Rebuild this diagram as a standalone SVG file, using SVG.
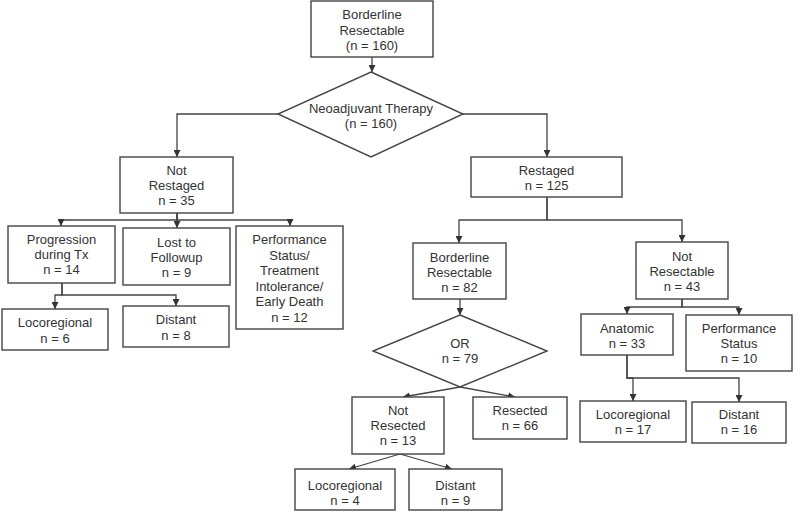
<svg xmlns="http://www.w3.org/2000/svg" width="800" height="514" viewBox="0 0 800 514">
<defs>
<marker id="arr" markerUnits="userSpaceOnUse" markerWidth="8" markerHeight="7" refX="7" refY="3.5" orient="auto">
<path d="M0,0 L7,3.5 L0,7 z" fill="#333"/>
</marker>
</defs>
<style>
.box{fill:#fff;stroke:#444;stroke-width:1.4}
.t{font-family:"Liberation Sans",Arial,sans-serif;font-size:13px;fill:#333;text-anchor:middle}
.c{fill:none;stroke:#444;stroke-width:1.3;marker-end:url(#arr)}
</style>
<rect width="800" height="514" fill="#fff"/>
<g id="connectors">
<path class="c" d="M372,57 V72"/>
<path class="c" d="M278,114 H177 V157"/>
<path class="c" d="M463,114 H547 V157"/>
<path class="c" d="M177,213 V220 H61 V226"/>
<path class="c" d="M177,213 V228"/>
<path class="c" d="M177,213 V220 H290 V226"/>
<path class="c" d="M62,283 V295 H55 V309"/>
<path class="c" d="M62,283 V295 H176 V306"/>
<path class="c" d="M547,197 V220 H459 V243"/>
<path class="c" d="M547,197 V220 H682 V242"/>
<path class="c" d="M460,299 V315"/>
<path class="c" d="M682,299 V307 H627 V314"/>
<path class="c" d="M682,299 V307 H739 V315"/>
<path class="c" d="M460,387 L403,397"/>
<path class="c" d="M460,387 L515,397"/>
<path class="c" d="M400,454 L349,469"/>
<path class="c" d="M400,454 L452,469"/>
<path class="c" d="M627,355 V378 H633 V401"/>
<path class="c" d="M627,355 V378 H739 V402"/>
</g>
<g id="n-top"><rect class="box" x="311" y="1" width="122" height="56"/>
<text class="t" x="372" y="19">Borderline</text><text class="t" x="372" y="34.5">Resectable</text><text class="t" x="372" y="50">(n = 160)</text></g>
<g id="n-neo"><polygon class="box" points="371,72 463,114 371,157 278,114"/>
<text class="t" x="371" y="113">Neoadjuvant Therapy</text><text class="t" x="371" y="128">(n = 160)</text></g>
<g id="n-notrestaged"><rect class="box" x="120" y="157" width="113" height="56"/>
<text class="t" x="176.5" y="175">Not</text><text class="t" x="176.5" y="190">Restaged</text><text class="t" x="176.5" y="205">n = 35</text></g>
<g id="n-progression"><rect class="box" x="8" y="226" width="107" height="57"/>
<text class="t" x="61.5" y="244">Progression</text><text class="t" x="61.5" y="259">during Tx</text><text class="t" x="61.5" y="274">n = 14</text></g>
<g id="n-lost"><rect class="box" x="123" y="228" width="107" height="57"/>
<text class="t" x="176.5" y="247">Lost to</text><text class="t" x="176.5" y="262">Followup</text><text class="t" x="176.5" y="277">n = 9</text></g>
<g id="n-perf1"><rect class="box" x="236" y="226" width="107" height="103"/>
<text class="t" x="289.5" y="244">Performance</text><text class="t" x="289.5" y="259.6">Status/</text><text class="t" x="289.5" y="275.2">Treatment</text><text class="t" x="289.5" y="290.8">Intolerance/</text><text class="t" x="289.5" y="306.4">Early Death</text><text class="t" x="289.5" y="322">n = 12</text></g>
<g id="n-loco6"><rect class="box" x="2" y="309" width="106" height="41"/>
<text class="t" x="55" y="327">Locoregional</text><text class="t" x="55" y="343">n = 6</text></g>
<g id="n-distant8"><rect class="box" x="123" y="306" width="106" height="41"/>
<text class="t" x="176" y="324">Distant</text><text class="t" x="176" y="340">n = 8</text></g>
<g id="n-restaged"><rect class="box" x="471" y="157" width="151" height="40"/>
<text class="t" x="546.5" y="175">Restaged</text><text class="t" x="546.5" y="190">n = 125</text></g>
<g id="n-border82"><rect class="box" x="413" y="243" width="93" height="56"/>
<text class="t" x="459.5" y="262">Borderline</text><text class="t" x="459.5" y="277">Resectable</text><text class="t" x="459.5" y="292">n = 82</text></g>
<g id="n-notresectable"><rect class="box" x="636" y="242" width="92" height="57"/>
<text class="t" x="682" y="261">Not</text><text class="t" x="682" y="276">Resectable</text><text class="t" x="682" y="291">n = 43</text></g>
<g id="n-anatomic"><rect class="box" x="581" y="314" width="92" height="41"/>
<text class="t" x="627" y="333">Anatomic</text><text class="t" x="627" y="348">n = 33</text></g>
<g id="n-perf2"><rect class="box" x="686" y="315" width="106" height="56"/>
<text class="t" x="739" y="333">Performance</text><text class="t" x="739" y="348">Status</text><text class="t" x="739" y="363">n = 10</text></g>
<g id="n-or"><polygon class="box" points="460,315 547,351 460,387 373,351"/>
<text class="t" x="460" y="348">OR</text><text class="t" x="460" y="363">n = 79</text></g>
<g id="n-notresected"><rect class="box" x="352" y="397" width="92" height="57"/>
<text class="t" x="398" y="415">Not</text><text class="t" x="398" y="430">Resected</text><text class="t" x="398" y="445">n = 13</text></g>
<g id="n-resected"><rect class="box" x="473" y="397" width="94" height="42"/>
<text class="t" x="520" y="415">Resected</text><text class="t" x="520" y="430">n = 66</text></g>
<g id="n-loco4"><rect class="box" x="295" y="469" width="100" height="41"/>
<text class="t" x="345" y="490">Locoregional</text><text class="t" x="345" y="505">n = 4</text></g>
<g id="n-distant9"><rect class="box" x="409" y="469" width="93" height="41"/>
<text class="t" x="455.5" y="490">Distant</text><text class="t" x="455.5" y="505">n = 9</text></g>
<g id="n-loco17"><rect class="box" x="580" y="401" width="106" height="41"/>
<text class="t" x="633" y="419">Locoregional</text><text class="t" x="633" y="434">n = 17</text></g>
<g id="n-distant16"><rect class="box" x="692" y="402" width="94" height="41"/>
<text class="t" x="739" y="419">Distant</text><text class="t" x="739" y="434">n = 16</text></g>
</svg>
